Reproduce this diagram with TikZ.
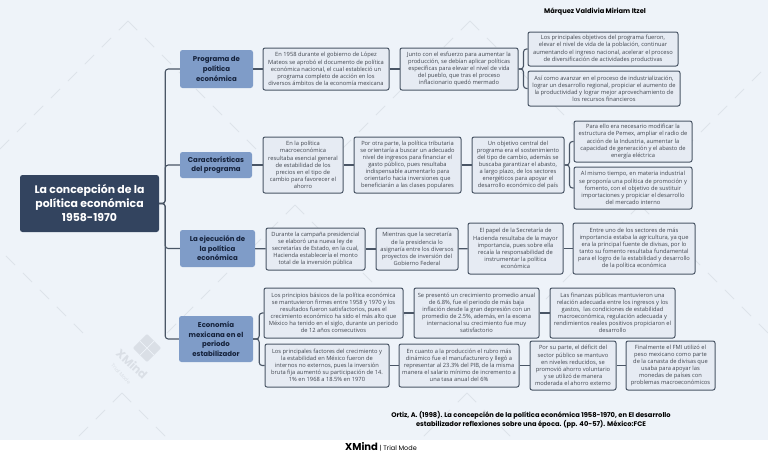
\documentclass[tikz,border=0pt]{standalone}
\usepackage{fontspec}
\setmainfont{Open Sans}
\newfontfamily\headfont{Poppins}
\definecolor{bgc}{HTML}{EEF3F9}
\definecolor{wmk}{HTML}{DDE3EA}
\definecolor{wmt}{HTML}{DADFE6}
\definecolor{rootc}{HTML}{33445F}
\definecolor{topicc}{HTML}{7F9CC8}
\definecolor{subc}{HTML}{E6EBF3}
\definecolor{linec}{HTML}{4A5666}
\definecolor{inkc}{HTML}{40454E}
\definecolor{navyc}{HTML}{14213A}
\tikzset{
  x=1pt,y=-1pt,
  subbox/.style={draw=linec,line width=1pt,fill=subc,rounded corners=2pt,inner sep=0pt,align=center,text=inkc,font=\fontsize{5.75}{7.1}\selectfont},
  topicbox/.style={fill=topicc,rounded corners=2.5pt,inner sep=0pt,align=center,text=navyc,font=\headfont\bfseries\fontsize{7}{9.6}\selectfont},
  rootbox/.style={fill=rootc,rounded corners=2.5pt,inner sep=0pt,align=center,text=white,font=\headfont\bfseries\fontsize{10.9}{14}\selectfont},
  conn/.style={draw=linec,line width=1.1pt,rounded corners=3pt},
  wline/.style={draw=wmk,line width=1pt,dash pattern=on 13pt off 11pt},
  capt/.style={align=center,text=black,inner sep=0pt,font=\headfont\bfseries\fontsize{6.7}{9.2}\selectfont}
}
\newcommand{\bx}[7][subbox]{\node[#1,minimum width={(#5-#3)*1pt},minimum height={(#6-#4)*1pt}] (#2) at ({(#3+#5)/2},{(#4+#6)/2}) {#7};}
\newcommand{\chev}[2]{\draw[wline] (#1,#2) -- ++(-130,130); \draw[wline] (#1,#2) -- ++(135,135);}
\begin{document}
\begin{tikzpicture}
\useasboundingbox (0,0) rectangle (768,456);
\fill[white] (0,0) rectangle (768,456);
\fill[bgc] (0,0) rectangle (768,440);
\begin{scope}
\clip (0,0) rectangle (768,440);
\foreach \a/\b in {128/21,470/21,812/21,295/205,640/205,-45/205,122/393,467/393,812/393}{\chev{\a}{\b}}
\end{scope}
% watermark
\node[fill=wmt,minimum size=20pt,inner sep=0pt,rotate=45,rounded corners=1pt] (wmicon) at (147,348) {};
\draw[bgc,line width=0.7pt] (140,341) -- (154,355) (154,341) -- (140,355);
\node[text=wmt,rotate=-43,inner sep=0pt,font=\headfont\bfseries\fontsize{11.5}{12}\selectfont] (wmname) at (132,364) {XMind};
\node[text=wmt,rotate=-47,inner sep=0pt,font=\headfont\fontsize{5}{5}\selectfont] (wmmode) at (121,374) {Trial Mode};

\bx[rootbox]{root}{20}{175}{159}{232}{La concepción de la\\política económica\\1958-1970}
\bx[topicbox]{pa}{180}{50}{253}{88}{Programa de\\política\\económica}
\bx[topicbox]{pb}{180}{152}{252}{178}{Características\\del programa}
\bx[topicbox]{pc}{180}{230}{255}{267}{La ejecución de\\la política\\económica}
\bx[topicbox]{pd}{179}{316}{253}{362}{Economía\\mexicana en el\\periodo\\estabilizador}

\bx{aa}{263}{48}{389}{90}{En 1958 durante el gobierno de López\\Mateos se aprobó el documento de política\\económica nacional, el cual estableció un\\programa completo de acción en los\\diversos ámbitos de la economía mexicana}
\bx{ab}{400}{48}{518}{90}{Junto con el esfuerzo para aumentar la\\producción, se debían aplicar políticas\\específicas para elevar el nivel de vida\\del pueblo, que tras el proceso\\inflacionario quedó mermado}
\bx{ac}{528}{32}{678}{66}{Los principales objetivos del programa fueron,\\elevar el nivel de vida de la población, continuar\\aumentando el ingreso nacional, acelerar el proceso\\de diversificación de actividades productivas}
\bx{ad}{528}{71}{680}{106}{Así como avanzar en el proceso de industrialización,\\lograr un desarrollo regional, propiciar el aumento de\\la productividad y lograr mejor aprovechamiento de\\los recursos financieros}

\bx{ba}{263}{137}{343}{193}{En la política\\macroeconómica\\resultaba esencial general\\de estabilidad de los\\precios en el tipo de\\cambio para favorecer el\\ahorro}
\bx{bb}{354}{137}{461}{193}{Por otra parte, la política tributaria\\se orientaría a buscar un adecuado\\nivel de ingresos para financiar el\\gasto público, pues resultaba\\indispensable aumentarlo para\\orientarlo hacia inversiones que\\beneficiarán a las clases populares}
\bx{bc}{472}{137}{564}{193}{Un objetivo central del\\programa era el sostenimiento\\del tipo de cambio, además se\\buscaba garantizar el abasto,\\a largo plazo, de los sectores\\energéticos para apoyar el\\desarrollo económico del país}
\bx{bd}{574}{121}{692}{162}{Para ello era necesario modificar la\\estructura de Pemex, ampliar el radio de\\acción de la Industria, aumentar la\\capacidad de generación y el abasto de\\energía eléctrica}
\bx{be}{574}{167}{692}{209}{Al mismo tiempo, en materia industrial\\se proponía una política de promoción y\\fomento, con el objetivo de sustituir\\importaciones y propiciar el desarrollo\\del mercado interno}

\bx{ca}{266}{228}{365}{270}{Durante la campaña presidencial\\se elaboró una nueva ley de\\secretarías de Estado, en la cual,\\Hacienda establecería el monto\\total de la inversión pública}
\bx{cb}{376}{228}{458}{270}{Mientras que la secretaría\\de la presidencia lo\\asignaría entre los diversos\\proyectos de inversión del\\Gobierno Federal}
\bx{cc}{468}{223}{563}{274}{El papel de la Secretaría de\\Hacienda resultaba de la mayor\\importancia, pues sobre ella\\recaía la responsabilidad de\\instrumentar la política\\económica}
\bx{cd}{573}{223}{695}{274}{Entre uno de los sectores de más\\importancia estaba la agricultura, ya que\\era la principal fuente de divisas, por lo\\tanto su fomento resultaba fundamental\\para el logro de la estabilidad y desarrollo\\de la política económica}

\bx{da}{264}{288}{403}{338}{Los principios básicos de la política económica\\se mantuvieron firmes entre 1958 y 1970 y los\\resultados fueron satisfactorios, pues el\\crecimiento económico ha sido el más alto que\\México ha tenido en el siglo, durante un periodo\\de 12 años consecutivos}
\bx{db}{414}{288}{539}{338}{Se presentó un crecimiento promedio anual\\de 6.8\%, fue el periodo de más baja\\inflación desde la gran depresión con un\\promedio de 2.5\%, además, en la escena\\internacional su crecimiento fue muy\\satisfactorio}
\bx{dc}{550}{288}{675}{338}{Las finanzas públicas mantuvieron una\\relación adecuada entre los ingresos y los\\gastos,~ las condiciones de estabilidad\\macroeconómica, regulación adecuada y\\rendimientos reales positivos propiciaron el\\desarrollo}

\bx{ea}{265}{344}{389}{387}{Los principales factores del crecimiento y\\la estabilidad en México fueron de\\internos no externos, pues la inversión\\bruta fija aumentó su participación de 14.\\1\% en 1968 a 18.5\% en 1970}
\bx{eb}{399}{344}{519}{387}{En cuanto a la producción el rubro más\\dinámico fue el manufacturero y llegó a\\representar al 23.3\% del PIB, de la misma\\manera el salario mínimo de incremento a\\una tasa anual del 6\%}
\bx{ec}{530}{341}{616}{390}{Por su parte, el déficit del\\sector público se mantuvo\\en niveles reducidos, se\\promovió ahorro voluntario\\y se utilizó de manera\\moderada el ahorro externo}
\bx{ed}{626}{341}{715}{390}{Finalmente el FMI utilizó el\\peso mexicano como parte\\de la canasta de divisas que\\usaba para apoyar las\\monedas de países con\\problemas macroeconómicos}

% connectors
\foreach \t in {pa,pb,pc,pd}{\draw[conn] (root.east) -- ++(6,0) |- (\t.west);}
\draw[conn] (pa) -- (aa); \draw[conn] (aa) -- (ab);
\draw[conn] (ab.east) -- ++(5,0) |- (ac.west);
\draw[conn] (ab.east) -- ++(5,0) |- (ad.west);
\draw[conn] (pb) -- (ba); \draw[conn] (ba) -- (bb); \draw[conn] (bb) -- (bc);
\draw[conn] (bc.east) -- ++(5,0) |- (bd.west);
\draw[conn] (bc.east) -- ++(5,0) |- (be.west);
\draw[conn] (pc) -- (ca); \draw[conn] (ca) -- (cb); \draw[conn] (cb) -- (cc); \draw[conn] (cc) -- (cd);
\draw[conn] (pd.east) -- ++(6,0) |- (da.west);
\draw[conn] (pd.east) -- ++(6,0) |- (ea.west);
\draw[conn] (da) -- (db); \draw[conn] (db) -- (dc);
\draw[conn] (ea) -- (eb); \draw[conn] (eb) -- (ec); \draw[conn] (ec) -- (ed);

\node[capt] (author) at (595,12) {Márquez Valdivia Miriam Itzel};
\node[capt] (cite) at (531,420) {Ortiz, A. (1998). La concepción de la política económica 1958-1970, en El desarrollo\\estabilizador reflexiones sobre una época. (pp. 40-57). México:FCE};
\node[inner sep=0pt,text=black,font=\headfont\fontsize{6.5}{8}\selectfont] (brand) at (381,447) {{\bfseries\fontsize{10}{10}\selectfont XMind} | Trial Mode};
\end{tikzpicture}
\end{document}
